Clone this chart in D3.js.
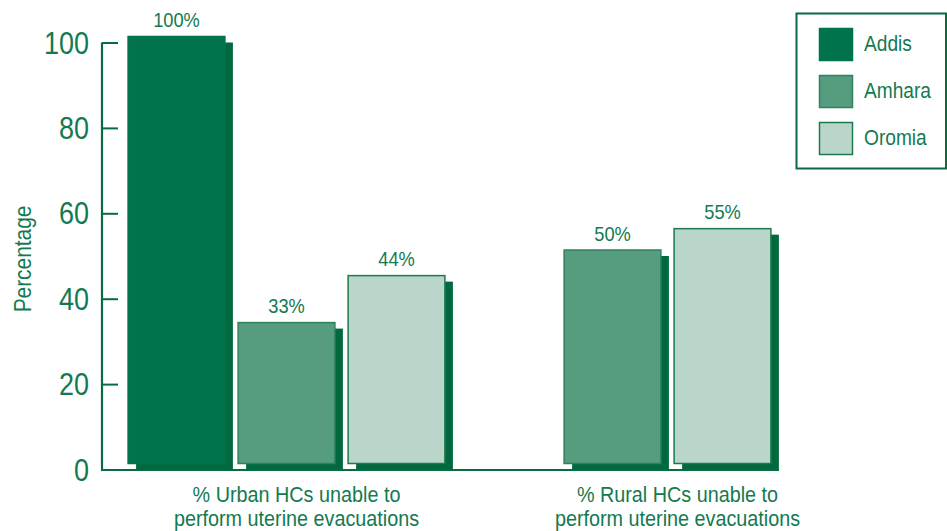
<!DOCTYPE html>
<html>
<head>
<meta charset="utf-8">
<script src="https://cdn.jsdelivr.net/npm/d3@7"></script>
<style>
  html, body { margin: 0; padding: 0; background: #fff; }
  svg { display: block; }
  text { font-family: "Liberation Sans", Arial, sans-serif; }
</style>
</head>
<body>
<svg id="chart" width="947" height="531"></svg>
<script>
const categories = [
  ["% Urban HCs unable to", "perform uterine evacuations"],
  ["% Rural HCs unable to", "perform uterine evacuations"]
];
const seriesNames = ["Addis", "Amhara", "Oromia"];
const addisValues = [100, null];
const amharaValues = [33, 50];
const oromiaValues = [44, 55];
const yTicks = [0, 20, 40, 60, 80, 100];

const seriesValues = [addisValues, amharaValues, oromiaValues];
const fills = ["#00734C", "#569D7F", "#BAD6CA"];
const strokes = ["#00734C", "#2F8160", "#1E7A4E"];
const shadowColor = "#006A3E";
const green = "#137A50";
const axisColor = "#0A6B42";
const SX = 0.87; // condensed look

const svg = d3.select("#chart");
const catKeys = categories.map(c => c.join(" "));

function place(sel, x, y, rot, sx) {
  return sel.attr("transform", `translate(${x},${y})` + (rot ? ` rotate(${rot})` : "") + ` scale(${sx || SX},1)`);
}

const y = d3.scaleLinear().domain([0, 100]).range([469.5, 42.5]);
const x0 = d3.scaleBand().domain(catKeys).range([96, 858]);
const dx = 8, dy = 6;

// bars
catKeys.forEach((key, ci) => {
  const present = seriesNames.filter((s, si) => seriesValues[si][ci] != null);
  const c = x0(key) + x0.bandwidth() / 2;
  const half = present.length * 55;
  const x1 = d3.scaleBand().domain(present).range([c - half, c + half])
    .paddingInner(0.12).paddingOuter(0.06);
  const data = present.map(s => ({ s, si: seriesNames.indexOf(s), v: seriesValues[seriesNames.indexOf(s)][ci] }));
  const g = svg.append("g");
  g.selectAll("rect.shadow").data(data).join("rect")
    .attr("class", "shadow")
    .attr("x", d => x1(d.s) + dx)
    .attr("y", d => y(d.v))
    .attr("width", x1.bandwidth())
    .attr("height", d => y(0) - y(d.v))
    .attr("fill", shadowColor);
  g.selectAll("rect.bar").data(data).join("rect")
    .attr("class", "bar")
    .attr("x", d => x1(d.s))
    .attr("y", d => y(d.v) - dy)
    .attr("width", x1.bandwidth())
    .attr("height", d => y(0) - y(d.v))
    .attr("fill", d => fills[d.si])
    .attr("stroke", d => strokes[d.si])
    .attr("stroke-width", 1.5);
  g.selectAll("text.val").data(data).join("text")
    .attr("class", "val")
    .each(function(d) { place(d3.select(this), x1(d.s) + x1.bandwidth() / 2, y(d.v) - dy - 9.5); })
    .attr("text-anchor", "middle")
    .attr("fill", green)
    .attr("font-size", 21)
    .text(d => d.v + "%");
});

// y axis
const yAxis = d3.axisRight(y).tickValues(yTicks).tickSize(16).tickFormat("");
const ya = svg.append("g").attr("transform", "translate(102,0)").call(yAxis);
ya.select(".domain").attr("stroke", axisColor).attr("stroke-width", 2.2).attr("d", `M0,${y(100)}V${y(0)}`);
ya.selectAll(".tick line").attr("stroke", axisColor).attr("stroke-width", 2);
svg.append("g").selectAll("text").data(yTicks).join("text")
  .each(function(d) { place(d3.select(this), 89, y(d) + 11); })
  .attr("text-anchor", "end")
  .attr("fill", green)
  .attr("font-size", 31)
  .text(d => d);

// baseline
svg.append("line")
  .attr("x1", 101).attr("x2", 779)
  .attr("y1", y(0) + 0.5).attr("y2", y(0) + 0.5)
  .attr("stroke", axisColor).attr("stroke-width", 2.2);

// y label
place(svg.append("text"), 31, 259, -90)
  .attr("text-anchor", "middle")
  .attr("fill", green)
  .attr("font-size", 24)
  .text("Percentage");

// category labels (one text, two lines)
catKeys.forEach((key, ci) => {
  const c = x0(key) + x0.bandwidth() / 2 + 10;
  const t = place(svg.append("text"), c, 501.5, 0, 0.9)
    .attr("text-anchor", "middle").attr("fill", green).attr("font-size", 22);
  categories[ci].forEach((line, li) => {
    t.append("tspan").attr("x", 0).attr("y", li * 24.8).text(line);
  });
});

// legend
const lg = svg.append("g");
lg.append("rect").attr("x", 796.5).attr("y", 13.5).attr("width", 149.5).attr("height", 155)
  .attr("fill", "#fff").attr("stroke", axisColor).attr("stroke-width", 2);
seriesNames.forEach((s, i) => {
  lg.append("rect").attr("x", 819.5).attr("y", 28.5 + i * 47).attr("width", 33).attr("height", 32)
    .attr("fill", fills[i]).attr("stroke", strokes[i]).attr("stroke-width", 1.5);
  place(lg.append("text"), 864, 51 + i * 47)
    .attr("fill", green).attr("font-size", 22).text(s);
});
</script>
</body>
</html>
